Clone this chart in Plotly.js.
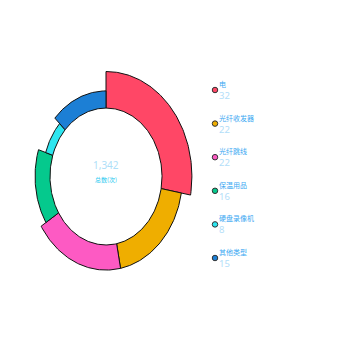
<!DOCTYPE html>
<html>
<head>
<meta charset="utf-8">
<script src="https://cdn.plot.ly/plotly-3.0.1.min.js"></script>
<style>
  html, body { margin: 0; padding: 0; background: #fff; }
  #chart { width: 350px; height: 350px; }
</style>
</head>
<body>
<div id="chart"></div>
<script>
// Category data
const categories = ['电', '光纤收发器', '光纤跳线', '保温用品', '硬盘录像机', '其他类型'];
const values = [32, 22, 22, 16, 8, 15];
const colors = ['#ff4766', '#efae00', '#fd5ac3', '#05c98d', '#2de6f0', '#1c7fd5'];
const totalLabel = '1,342';
const totalCaption = '总数(次)';

// Rose ring geometry: angle follows share of total, petal length follows value
const INNER = 0.652;               // inner radius relative to the longest petal
const PX_X = 85.9, PX_Y = 105;     // pixels per unit along x and y
const CX = 106, CY = 176.5;        // ring centre in pixels
const W = 350, H = 350;

const total = values.reduce((a, b) => a + b, 0);
const vmax = Math.max(...values);

const traces = [];
let acc = 0;
values.forEach((v, i) => {
  const a0 = acc / total * 2 * Math.PI;
  acc += v;
  const a1 = acc / total * 2 * Math.PI;
  const R = INNER + (v / vmax) * (1 - INNER);
  const n = Math.max(8, Math.ceil((a1 - a0) / (Math.PI / 180)));
  const xs = [], ys = [];
  for (let k = 0; k <= n; k++) {
    const t = a0 + (a1 - a0) * k / n;
    xs.push(R * Math.sin(t)); ys.push(R * Math.cos(t));
  }
  for (let k = n; k >= 0; k--) {
    const t = a0 + (a1 - a0) * k / n;
    xs.push(INNER * Math.sin(t)); ys.push(INNER * Math.cos(t));
  }
  xs.push(xs[0]); ys.push(ys[0]);
  traces.push({
    type: 'scatter', x: xs, y: ys, mode: 'lines',
    fill: 'toself', fillcolor: colors[i],
    line: { color: '#111', width: 1 },
    hoverinfo: 'text', text: categories[i] + ': ' + v,
    showlegend: false
  });
});

// Legend column: one marker per category
const LEG_Y0 = 90, LEG_STEP = 33.6, LEG_X = 215;
traces.push({
  type: 'scatter', xaxis: 'x2', yaxis: 'y2',
  x: categories.map(() => 0),
  y: categories.map((_, i) => i),
  mode: 'markers',
  marker: { size: 5.5, color: colors, line: { color: '#333', width: 1 } },
  hoverinfo: 'skip', showlegend: false, cliponaxis: false
});

// Legend labels: name above, value below each marker
const legendNotes = [];
categories.forEach((c, i) => {
  legendNotes.push({
    x: 0, y: i, xref: 'x2', yref: 'y2', text: c, showarrow: false,
    xanchor: 'left', yanchor: 'middle', xshift: 3, yshift: 6, borderpad: 0,
    font: { family: 'Noto Sans CJK SC, sans-serif', size: 7, color: '#3aa8f2' }
  });
  legendNotes.push({
    x: 0, y: i, xref: 'x2', yref: 'y2', text: String(values[i]), showarrow: false,
    xanchor: 'left', yanchor: 'middle', xshift: 3, yshift: -5.5, borderpad: 0,
    font: { family: 'Noto Sans, sans-serif', size: 9.5, color: '#b3def9' }
  });
});

const layout = {
  width: W, height: H,
  margin: { l: 0, r: 0, t: 0, b: 0 },
  paper_bgcolor: '#fff', plot_bgcolor: '#fff',
  showlegend: false,
  xaxis: { domain: [0, 1], range: [-CX / PX_X, (W - CX) / PX_X], visible: false, fixedrange: true },
  yaxis: { domain: [0, 1], range: [-(H - CY) / PX_Y, CY / PX_Y], visible: false, fixedrange: true },
  xaxis2: { domain: [LEG_X / W, 1], range: [0, 1], visible: false, fixedrange: true, anchor: 'y2' },
  yaxis2: { domain: [0, 1], range: [(H - LEG_Y0) / LEG_STEP, -LEG_Y0 / LEG_STEP], visible: false, fixedrange: true, anchor: 'x2' },
  annotations: [
    { x: 0, y: 0.105, xref: 'x', yref: 'y', text: totalLabel, showarrow: false, borderpad: 0,
      font: { family: 'Noto Sans, sans-serif', size: 10, color: '#aee0f8' } },
    { x: 0, y: -0.03, xref: 'x', yref: 'y', text: totalCaption, showarrow: false, borderpad: 0,
      font: { family: 'Noto Sans CJK SC, sans-serif', size: 6, color: '#22c8f0' } }
  ].concat(legendNotes)
};

Plotly.newPlot('chart', traces, layout, { displayModeBar: false, staticPlot: true });
</script>
</body>
</html>
